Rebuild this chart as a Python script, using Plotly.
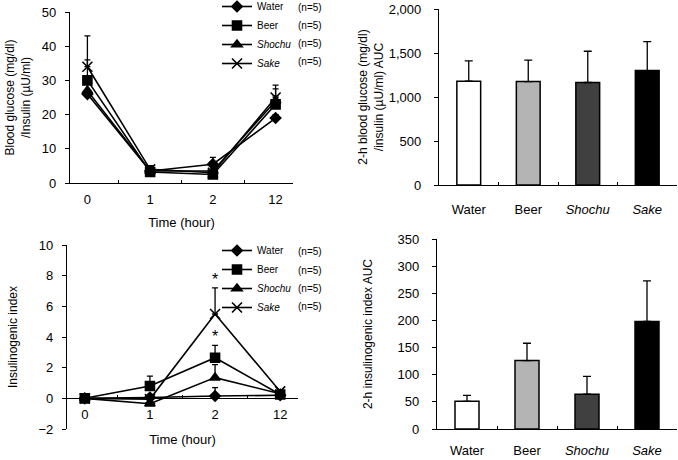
import plotly.graph_objects as go

# ---------------- data ----------------
times = ["0", "1", "2", "12"]
groups = ["Water", "Beer", "Shochu", "Sake"]
legend_names = ["Water", "Beer", "<i>Shochu</i>", "<i>Sake</i>"]
group_labels = ["Water", "Beer", "<i>Shochu</i>", "<i>Sake</i>"]

# Blood glucose / insulin ratio (mean, upper SD)
ratio_water = [26.0, 3.5, 5.5, 19.0]
ratio_water_sd = [1.0, 1.5, 2.0, 1.0]
ratio_beer = [30.0, 3.2, 2.5, 23.0]
ratio_beer_sd = [6.0, 1.0, 1.0, 2.5]
ratio_shochu = [27.0, 3.5, 3.5, 24.0]
ratio_shochu_sd = [2.0, 1.0, 1.0, 3.5]
ratio_sake = [34.0, 4.0, 3.0, 25.0]
ratio_sake_sd = [9.0, 1.0, 1.0, 3.6]

# Insulinogenic index (mean, upper SD)
ii_water = [0.0, 0.05, 0.15, 0.2]
ii_water_sd = [0.0, 0.2, 0.55, 0.1]
ii_beer = [0.0, 0.8, 2.65, 0.25]
ii_beer_sd = [0.0, 0.65, 0.8, 0.1]
ii_shochu = [0.0, -0.35, 1.35, 0.3]
ii_shochu_sd = [0.0, 0.3, 0.85, 0.1]
ii_sake = [0.0, -0.05, 5.5, 0.45]
ii_sake_sd = [0.0, 0.2, 1.7, 0.1]

# 2-h AUCs (mean, upper SD)
auc_ratio = [1180, 1175, 1165, 1300]
auc_ratio_sd = [230, 245, 355, 330]
auc_ii = [51, 126, 64, 198]
auc_ii_sd = [11, 32, 33, 75]

bar_colors = ["#ffffff", "#b4b4b4", "#404040", "#000000"]
symbols = ["diamond", "square", "triangle-up", "x-thin"]
marker_sizes = [8, 9, 9, 10]

W, H = 678, 460
def fx(a, b):
    return [a / W, b / W]
def fy(top, bottom):
    return [1 - bottom / H, 1 - top / H]
def px(a):
    return a / W
def py(b):
    return 1 - b / H

FONT = "Liberation Sans, Arial, sans-serif"

fig = go.Figure()

ratio_series = [(ratio_water, ratio_water_sd), (ratio_beer, ratio_beer_sd),
                (ratio_shochu, ratio_shochu_sd), (ratio_sake, ratio_sake_sd)]
ii_series = [(ii_water, ii_water_sd), (ii_beer, ii_beer_sd),
             (ii_shochu, ii_shochu_sd), (ii_sake, ii_sake_sd)]

for i, (vals, sd) in enumerate(ratio_series):
    fig.add_trace(go.Scatter(
        x=times, y=vals, mode="lines+markers", name=legend_names[i],
        xaxis="x", yaxis="y", legend="legend",
        line=dict(color="black", width=1.6),
        marker=dict(symbol=symbols[i], size=marker_sizes[i], color="black",
                    line=dict(color="black", width=1.6)),
        error_y=dict(type="data", array=sd, arrayminus=[0] * len(sd), symmetric=False,
                     color="black", thickness=1.3, width=3),
    ))

for i, (vals, sd) in enumerate(ii_series):
    fig.add_trace(go.Scatter(
        x=times, y=vals, mode="lines+markers", name=legend_names[i],
        xaxis="x2", yaxis="y2", legend="legend2",
        line=dict(color="black", width=1.6),
        marker=dict(symbol=symbols[i], size=marker_sizes[i], color="black",
                    line=dict(color="black", width=1.6)),
        error_y=dict(type="data", array=sd, arrayminus=[0] * len(sd), symmetric=False,
                     color="black", thickness=1.3, width=3),
    ))

fig.add_trace(go.Bar(
    x=group_labels, y=auc_ratio, xaxis="x3", yaxis="y3", showlegend=False, width=0.4,
    marker=dict(color=bar_colors, line=dict(color="black", width=1.5)),
    error_y=dict(type="data", array=auc_ratio_sd, arrayminus=[0] * 4, symmetric=False,
                 color="black", thickness=1.3, width=4),
))
fig.add_trace(go.Bar(
    x=group_labels, y=auc_ii, xaxis="x4", yaxis="y4", showlegend=False, width=0.4,
    marker=dict(color=bar_colors, line=dict(color="black", width=1.5)),
    error_y=dict(type="data", array=auc_ii_sd, arrayminus=[0] * 4, symmetric=False,
                 color="black", thickness=1.3, width=4),
))

tickfont = dict(family=FONT, size=13, color="black")
titlefont = dict(family=FONT, size=12, color="black")

common_x = dict(type="category", showline=True, linecolor="black", linewidth=1.3,
                ticks="inside", ticklen=3, tickcolor="black", tickson="boundaries",
                showgrid=False, zeroline=False, tickfont=tickfont, automargin=False,
                ticklabeloverflow="allow")
common_y = dict(showline=True, linecolor="black", linewidth=1.3, ticks="outside",
                ticklen=4, tickcolor="black", showgrid=False, zeroline=False,
                tickfont=tickfont, ticklabelstandoff=6, automargin=False,
                ticklabeloverflow="allow")

# bottom-left y domain & x-axis position at y = 0
y2_dom = fy(245, 429)
y2_range = [-2, 10]
x2_pos = y2_dom[0] + (0 - y2_range[0]) / (y2_range[1] - y2_range[0]) * (y2_dom[1] - y2_dom[0])

legend_font = dict(family=FONT, size=10, color="black")

fig.update_layout(
    width=W, height=H, autosize=False,
    margin=dict(l=0, r=0, t=0, b=0, autoexpand=False),
    paper_bgcolor="white", plot_bgcolor="white",
    font=dict(family=FONT, color="black"),
    xaxis=dict(common_x, domain=fx(70, 293), anchor="y", ticklabelstandoff=4,
               title=dict(text="Time (hour)", font=dict(family=FONT, size=13, color="black"), standoff=12)),
    yaxis=dict(common_y, domain=fy(12, 183), anchor="x", range=[0, 50], dtick=10,
               title=dict(text="Blood glucose (mg/dl)<br>/Insulin (µU/ml)", font=titlefont, standoff=8)),
    xaxis2=dict(common_x, domain=fx(67, 298), anchor="free", position=x2_pos, ticklabelstandoff=4,
                title=dict(text="Time (hour)", font=dict(family=FONT, size=13, color="black"), standoff=13)),
    yaxis2=dict(common_y, domain=y2_dom, anchor="x2", range=y2_range, dtick=2,
                title=dict(text="Insulinogenic index", font=titlefont, standoff=18)),
    xaxis3=dict(common_x, domain=fx(439, 677), anchor="y3", ticklabelstandoff=12),
    yaxis3=dict(common_y, domain=fy(9, 185), anchor="x3", range=[0, 2000], dtick=500,
                tickformat=",", ticklabelstandoff=10,
                title=dict(text="2-h blood glucose (mg/dl)<br>/insulin (µU/ml) AUC", font=titlefont, standoff=2)),
    xaxis4=dict(common_x, domain=fx(437, 677), anchor="y4", ticklabelstandoff=9),
    yaxis4=dict(common_y, domain=fy(239, 429), anchor="x4", range=[0, 350], dtick=50,
                ticklabelstandoff=10,
                title=dict(text="2-h insulinogenic index AUC", font=titlefont, standoff=22)),
    legend=dict(x=px(217), y=py(-8), xanchor="left", yanchor="top",
                font=legend_font, itemwidth=30,
                bgcolor="rgba(0,0,0,0)", tracegroupgap=0, itemclick=False),
    legend2=dict(x=px(217), y=py(236), xanchor="left", yanchor="top",
                 font=legend_font, itemwidth=30,
                 bgcolor="rgba(0,0,0,0)", tracegroupgap=0, itemclick=False),
    bargap=0.6,
)

# "(n=5)" labels next to legends
n_label = "(n=5)"
for j in range(4):
    fig.add_annotation(text=n_label, xref="paper", yref="paper", x=px(296), y=py(7 + 18.3 * j),
                       xanchor="left", yanchor="middle", showarrow=False,
                       font=legend_font)
    fig.add_annotation(text=n_label, xref="paper", yref="paper", x=px(296), y=py(252 + 18.3 * j),
                       xanchor="left", yanchor="middle", showarrow=False,
                       font=legend_font)

# significance asterisks above Sake and Beer at 2 h
sig_points = [("2", ii_sake[2] + ii_sake_sd[2]), ("2", ii_beer[2] + ii_beer_sd[2])]
for xv, yv in sig_points:
    fig.add_annotation(text="*", x=xv, y=yv, xref="x2", yref="y2", showarrow=False,
                       yanchor="bottom", yshift=-2,
                       font=dict(family=FONT, size=16, color="black"))

# remove the browser's default 8px body margin so the figure fills the window
fig.write_html("out.html", config={"displayModeBar": False},
               post_script="document.body.style.margin='0';")
